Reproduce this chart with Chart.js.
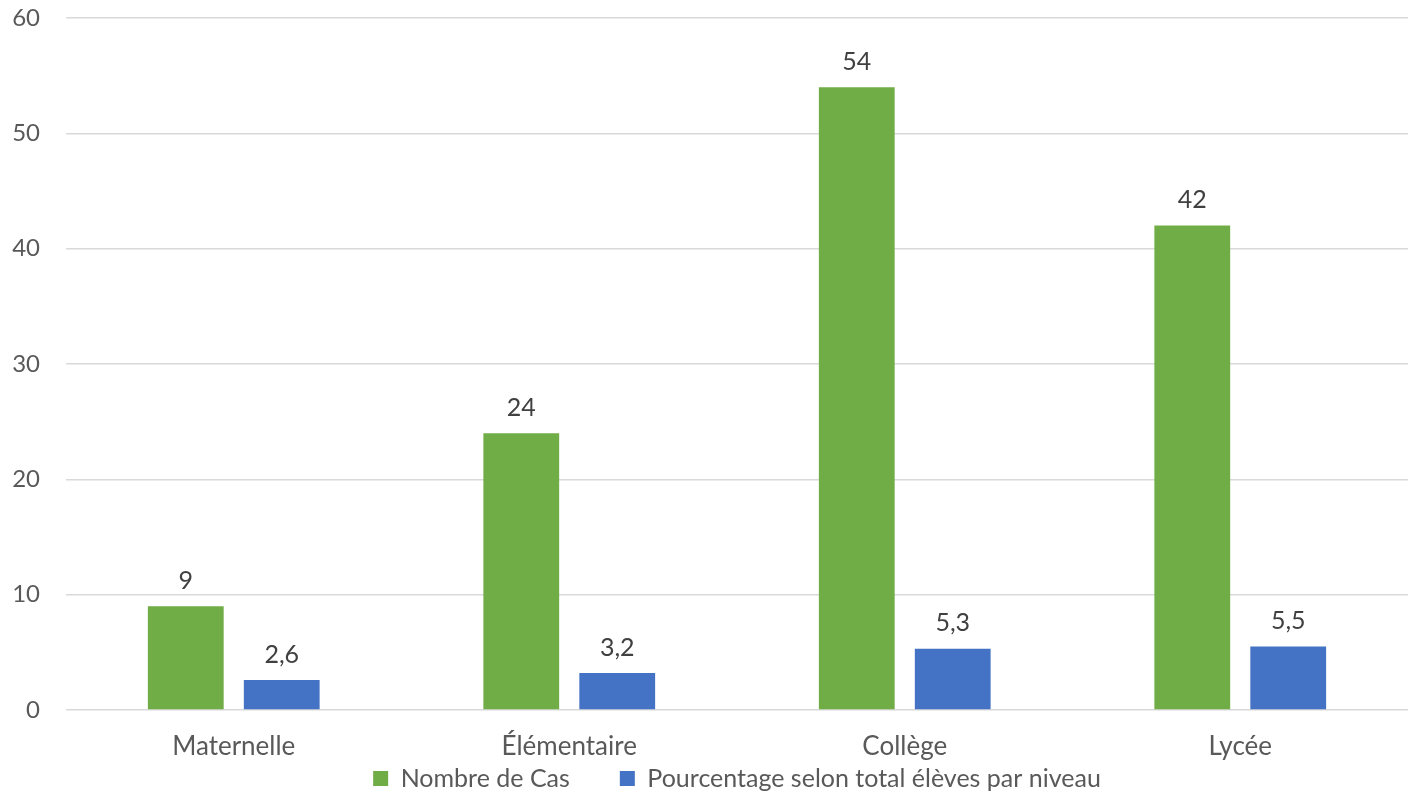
<!DOCTYPE html>
<html>
<head>
<meta charset="utf-8">
<script src="https://cdn.jsdelivr.net/npm/chart.js@4"></script>
<style>
  html, body { margin: 0; padding: 0; background: #fff; }
  #wrap { width: 1412px; height: 795px; position: relative; }
</style>
</head>
<body>
<div id="wrap"><canvas id="chart1"></canvas></div>
<script>
// data
var categories = ['Maternelle', 'Élémentaire', 'Collège', 'Lycée'];
var nombreCas = [9, 24, 54, 42];
var pourcentage = [2.6, 3.2, 5.3, 5.5];
var seriesNames = ['Nombre de Cas', 'Pourcentage selon total élèves par niveau'];
var yTicks = [0, 10, 20, 30, 40, 50, 60];

var FONT = 'Lato, "Open Sans", sans-serif';

// value labels above each bar, french decimal comma
var barLabels = {
    id: 'barLabels',
    afterDatasetsDraw: function(chart) {
        var ctx = chart.ctx;
        ctx.save();
        ctx.font = '25px ' + FONT;
        ctx.fillStyle = '#404040';
        ctx.textAlign = 'center';
        ctx.textBaseline = 'bottom';
        chart.data.datasets.forEach(function(ds, i) {
            chart.getDatasetMeta(i).data.forEach(function(bar, j) {
                var txt = String(ds.data[j]).replace('.', ',');
                ctx.fillText(txt, bar.x, bar.y - 13);
            });
        });
        ctx.restore();
    }
};

// the legend keeps some empty room under its row, trim it
var legendTrim = {
    id: 'legendTrim',
    beforeLayout: function(chart) {
        var lg = chart.legend;
        if (lg && !lg._trimmed) {
            var fit = lg.fit;
            lg.fit = function() {
                fit.call(this);
                this.height -= 6;
            };
            lg._trimmed = true;
        }
    }
};

var ctx1 = document.getElementById('chart1').getContext('2d');
var chart1 = new Chart(ctx1, {
    type: 'bar',
    data: {
        labels: categories,
        datasets: [
            { label: seriesNames[0], data: nombreCas, backgroundColor: '#70ad47' },
            { label: seriesNames[1], data: pourcentage, backgroundColor: '#4472c4' }
        ]
    },
    options: {
        responsive: true,
        maintainAspectRatio: false,
        animation: false,
        categoryPercentage: 0.572,
        barPercentage: 0.79,
        layout: {
            padding: { left: 12, right: 4, top: 18, bottom: 0 }
        },
        plugins: {
            legend: {
                display: true,
                position: 'bottom',
                fullSize: false,
                labels: {
                    boxWidth: 15,
                    boxHeight: 15,
                    padding: 0,
                    color: '#595959',
                    font: { family: FONT, size: 25, lineHeight: 1 },
                    // wider gap between the two legend items
                    generateLabels: function(chart) {
                        var items = Chart.defaults.plugins.legend.labels.generateLabels(chart);
                        if (items.length > 1) items[0].text += '\u2003\u2003\u2002';
                        return items;
                    }
                }
            },
            tooltip: { enabled: false }
        },
        scales: {
            x: {
                grid: { display: false },
                border: { display: false },
                afterFit: function(axis) {
                    axis.height = 56;
                },
                ticks: {
                    color: '#595959',
                    padding: 13,
                    font: { family: FONT, size: 26 }
                }
            },
            y: {
                min: 0,
                max: 60,
                afterBuildTicks: function(axis) {
                    axis.ticks = yTicks.map(function(v) { return { value: v }; });
                },
                afterFit: function(axis) {
                    axis.width = 54;
                    axis.paddingTop = 0;
                    axis.paddingBottom = 0;
                },
                grid: { color: '#d9d9d9', lineWidth: 1.5, drawTicks: false },
                border: { display: false },
                ticks: {
                    color: '#595959',
                    padding: 26,
                    font: { family: FONT, size: 24 }
                }
            }
        }
    },
    plugins: [barLabels, legendTrim]
});
</script>
</body>
</html>
